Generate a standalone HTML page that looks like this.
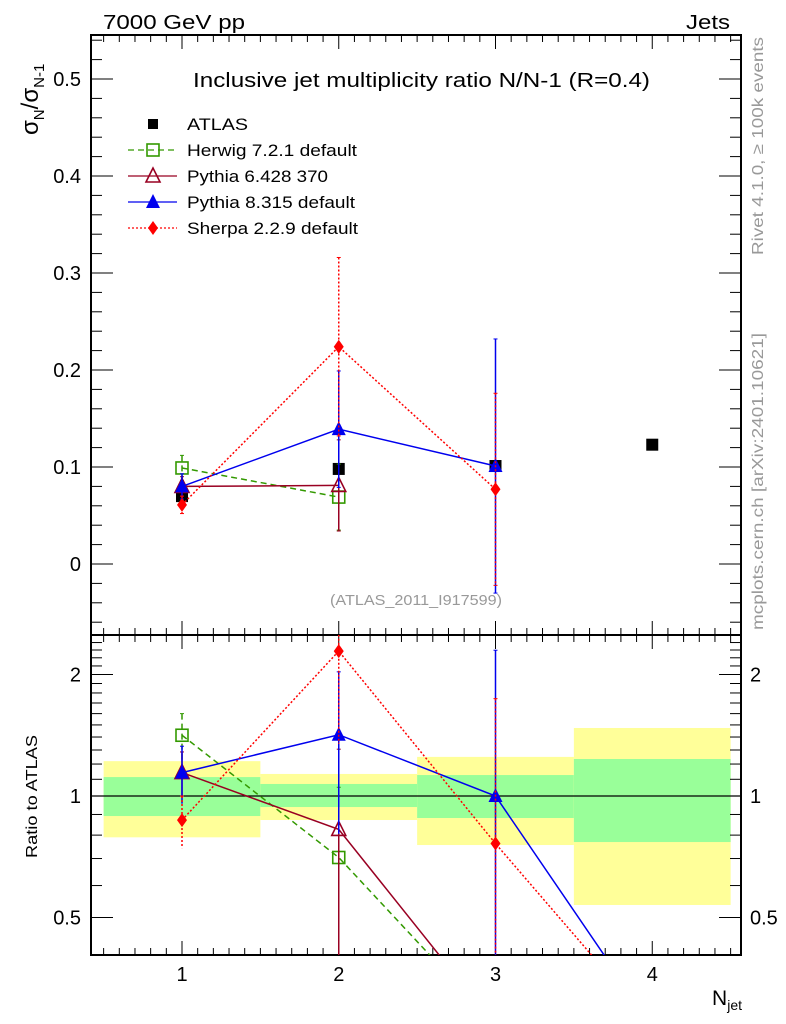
<!DOCTYPE html>
<html><head><meta charset="utf-8"><style>
html,body{margin:0;background:#fff;overflow:hidden;width:786px;height:1024px;}
svg{display:block;font-family:"Liberation Sans",sans-serif;}
</style></head><body>
<svg id="c" width="786" height="1024" xmlns="http://www.w3.org/2000/svg">
<g id="bands"></g>
<g id="axes"></g>
<g id="series"></g>
<text x="103" y="29" font-size="20" textLength="142" lengthAdjust="spacingAndGlyphs">7000 GeV pp</text>
<text x="686" y="29" font-size="20" textLength="44" lengthAdjust="spacingAndGlyphs">Jets</text>
<text x="193" y="87" font-size="20" textLength="457" lengthAdjust="spacingAndGlyphs">Inclusive jet multiplicity ratio N/N-1 (R=0.4)</text>
<text x="330" y="605" font-size="15" fill="#999" textLength="172" lengthAdjust="spacingAndGlyphs">(ATLAS_2011_I917599)</text>
<text transform="translate(763,255) rotate(-90)" font-size="16" fill="#999" textLength="218" lengthAdjust="spacingAndGlyphs">Rivet 4.1.0, ≥ 100k events</text>
<text transform="translate(763,630) rotate(-90)" font-size="16" fill="#999" textLength="297" lengthAdjust="spacingAndGlyphs">mcplots.cern.ch [arXiv:2401.10621]</text>
<text transform="translate(38,135) rotate(-90)" font-size="24">σ<tspan font-size="15" dy="6">N</tspan><tspan dy="-6">/σ</tspan><tspan font-size="15" dy="6">N-1</tspan></text>
<text transform="translate(37,858) rotate(-90)" font-size="16" textLength="123" lengthAdjust="spacingAndGlyphs">Ratio to ATLAS</text>
<text x="742" y="1005" font-size="21" text-anchor="end">N<tspan font-size="14" dy="5">jet</tspan></text>
<g id="legend"></g>
</svg>
<script>
const categories=[1,2,3,4];
const atlas=[0.070,0.098,0.101,0.123];
const herwig=[0.099,0.069,null,null];
const herwigErr=[0.013,0.034,null,null];
const pythia6=[0.080,0.081,null,null];
const pythia6Err=[0.010,0.047,null,null];
const pythia8=[0.080,0.139,0.101,null];
const pythia8Err=[0.013,0.060,0.131,null];
const sherpa=[0.061,0.224,0.077,null];
const sherpaErr=[0.009,0.092,0.099,null];
const ratioTail=0.27;
const yellowBand=[[1.22,0.79],[1.134,0.872],[1.25,0.756],[1.474,0.537]];
const greenBand=[[1.114,0.892],[1.071,0.939],[1.127,0.882],[1.235,0.769]];
const mainTicks=[0,0.1,0.2,0.3,0.4,0.5];
const ratioTicks=[0.5,1,2];
const NS='http://www.w3.org/2000/svg';
const X=v=>182+(v-1)*156.75;
const Y=v=>564-v*970;
const R=r=>796-Math.log2(r)*121.5;
const L=91,Rt=741,T=35,M=635,B=955;
function mk(p,tag,a){const e=document.createElementNS(NS,tag);for(const k in a)e.setAttribute(k,a[k]);p.appendChild(e);return e;}
const svg=document.getElementById('c');
const defs=mk(svg,'defs',{});
const c1=mk(defs,'clipPath',{id:'cm'});mk(c1,'rect',{x:L,y:T,width:Rt-L,height:M-T});
const c2=mk(defs,'clipPath',{id:'cr'});mk(c2,'rect',{x:L,y:M,width:Rt-L,height:B-M});
const bands=document.getElementById('bands');
categories.forEach((c,i)=>{
 let e=mk(bands,'rect',{x:X(c-0.5),y:R(yellowBand[i][0]),width:X(c+0.5)-X(c-0.5),height:R(yellowBand[i][1])-R(yellowBand[i][0]),fill:'#ffff99'});
 
 e=mk(bands,'rect',{x:X(c-0.5),y:R(greenBand[i][0]),width:X(c+0.5)-X(c-0.5),height:R(greenBand[i][1])-R(greenBand[i][0]),fill:'#99ff99'});
 
});
const ax=document.getElementById('axes');
mk(ax,'line',{x1:L,x2:Rt,y1:R(1),y2:R(1),stroke:'#000','stroke-width':1.2});
mk(ax,'rect',{x:L,y:T,width:Rt-L,height:M-T,fill:'none',stroke:'#000','stroke-width':2});
mk(ax,'rect',{x:L,y:M,width:Rt-L,height:B-M,fill:'none',stroke:'#000','stroke-width':2});
const ln=(x1,y1,x2,y2)=>mk(ax,'line',{x1,y1,x2,y2,stroke:'#000','stroke-width':1});
for(let k=5;k<=45;k++){const v=k/10;const x=X(v);if(x<L||x>Rt)continue;const big=k%10==0;const s=big?14:7;
 ln(x,M,x,M-s);ln(x,M,x,M+s);ln(x,T,x,T+s);ln(x,B,x,B-s);}
categories.forEach(c=>{const t=mk(ax,'text',{x:X(c),y:981,'font-size':20,'text-anchor':'middle'});t.textContent=c;});
for(let k=-3;k<=27;k++){const v=k/50;const y=Y(v);if(y<T||y>M)continue;const big=k%5==0;const s=big?22:11;ln(L,y,L+s,y);ln(Rt,y,Rt-s,y);}
mainTicks.forEach(v=>{const t=mk(ax,'text',{x:81,y:Y(v)+7,'font-size':20,'text-anchor':'end'});t.textContent=v;});
for(let k=4;k<=25;k++){const v=k/10;const y=R(v);if(y<M||y>B)continue;const big=(k==5||k==10||k==20);const s=big?22:11;ln(L,y,L+s,y);ln(Rt,y,Rt-s,y);}
ratioTicks.forEach(v=>{let t=mk(ax,'text',{x:81,y:R(v)+7,'font-size':20,'text-anchor':'end'});t.textContent=v;
 t=mk(ax,'text',{x:750,y:R(v)+7,'font-size':20});t.textContent=v;});
const ser=document.getElementById('series');
function marker(g,type,x,y,col){
 if(type=='sq')return mk(g,'rect',{x:x-6,y:y-6,width:12,height:12,fill:col});
 if(type=='osq')return mk(g,'rect',{x:x-6,y:y-6,width:12,height:12,fill:'none',stroke:col,'stroke-width':1.6});
 if(type=='otri')return mk(g,'polygon',{points:`${x},${y-8} ${x-7},${y+6} ${x+7},${y+6}`,fill:'none',stroke:col,'stroke-width':1.6});
 if(type=='tri')return mk(g,'polygon',{points:`${x},${y-8} ${x-7},${y+6} ${x+7},${y+6}`,fill:col});
 if(type=='dia')return mk(g,'polygon',{points:`${x},${y-7} ${x-5},${y} ${x},${y+7} ${x+5},${y}`,fill:col});
}
const models=[
 {name:'herwig',v:herwig,e:herwigErr,col:'#339900',dash:'6,4',m:'osq',label:'Herwig 7.2.1 default',w:170},
 {name:'pythia6',v:pythia6,e:pythia6Err,col:'#990022',dash:'',m:'otri',label:'Pythia 6.428 370',w:141},
 {name:'pythia8',v:pythia8,e:pythia8Err,col:'#0000ee',dash:'',m:'tri',label:'Pythia 8.315 default',w:168},
 {name:'sherpa',v:sherpa,e:sherpaErr,col:'#ff0000',dash:'2,2',m:'dia',label:'Sherpa 2.2.9 default',w:171}];
const ga=mk(ser,'g',{'clip-path':'url(#cm)'});

categories.forEach((c,i)=>{const e=marker(ga,'sq',X(c),Y(atlas[i]),'#000');});
models.forEach(md=>{
 const g=mk(ser,'g',{'clip-path':'url(#cm)'});
 
 const gr=mk(ser,'g',{'clip-path':'url(#cr)'});
 
 const pts=[],rpts=[];
 categories.forEach((c,i)=>{if(md.v[i]!=null){pts.push([X(c),Y(md.v[i])]);rpts.push([X(c),R(md.v[i]/atlas[i])]);}});
 const last=rpts.length;
 if(last<categories.length)rpts.push([X(categories[last]),R(ratioTail)]);
 const ls={fill:'none',stroke:md.col,'stroke-width':1.5};if(md.dash)ls['stroke-dasharray']=md.dash;
 let p=mk(g,'polyline',Object.assign({points:pts.map(q=>q.join(',')).join(' ')},ls));
 
 p=mk(gr,'polyline',Object.assign({points:rpts.map(q=>q.join(',')).join(' ')},ls));
 
 categories.forEach((c,i)=>{if(md.v[i]==null)return;const x=X(c);
  const es={stroke:md.col,'stroke-width':1.5};if(md.dash)es['stroke-dasharray']=md.dash;
  const y1=Y(md.v[i]+md.e[i]),y2=Y(md.v[i]-md.e[i]);
  mk(g,'line',Object.assign({x1:x,x2:x,y1,y2},es));mk(g,'line',{x1:x-2,x2:x+2,y1,y2:y1,stroke:md.col});mk(g,'line',{x1:x-2,x2:x+2,y1:y2,y2,stroke:md.col});
  const lo=Math.max((md.v[i]-md.e[i])/atlas[i],0.01);
  const r1=R((md.v[i]+md.e[i])/atlas[i]),r2=R(lo);
  mk(gr,'line',Object.assign({x1:x,x2:x,y1:r1,y2:r2},es));mk(gr,'line',{x1:x-2,x2:x+2,y1:r1,y2:r1,stroke:md.col});
  let e=marker(g,md.m,x,Y(md.v[i]),md.col);
  e=marker(gr,md.m,x,R(md.v[i]/atlas[i]),md.col);
 });
});
const lg=document.getElementById('legend');
const rows=[{m:'sq',col:'#000',label:'ATLAS',line:false,w:61}].concat(models.map(m=>({m:m.m,col:m.col,label:m.label,dash:m.dash,line:true,w:m.w})));
rows.forEach((r,i)=>{const y=124+i*26;
 const g=mk(lg,'g',{});
 if(r.line){const a={x1:128,x2:177,y1:y,y2:y,stroke:r.col,'stroke-width':1.3};if(r.dash)a['stroke-dasharray']=r.dash;mk(g,'line',a);}
 if(r.m=='sq'){mk(g,'rect',{x:148,y:y-5,width:10,height:10,fill:'#000'});}else marker(g,r.m,153,y,r.col);
 const t=mk(g,'text',{x:187,y:y+6,'font-size':17,textLength:r.w,lengthAdjust:'spacingAndGlyphs'});t.textContent=r.label;});
</script>
</body></html>
